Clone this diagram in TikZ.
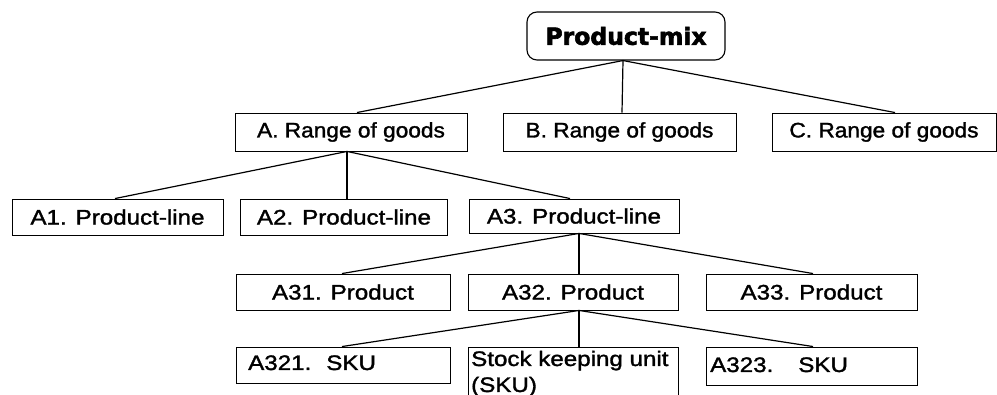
\documentclass[tikz,border=0pt]{standalone}
\usepackage{fontspec}
\setmainfont{Liberation Sans}
\newfontfamily\headfont[FakeBold=2.5]{DejaVu Sans}
\newfontfamily\rangeface[FakeStretch=1.08,FakeBold=1.5]{Liberation Sans}
\newfontfamily\wideface[FakeStretch=1.15,FakeBold=1.5]{Liberation Sans}
\usetikzlibrary{calc}

\begin{document}
\begin{tikzpicture}[x=1pt,y=-1pt,
  box/.style={draw, line width=0.9pt, inner sep=0pt, text=black},
  headbox/.style={box, rounded corners=10pt, line width=1.1pt},
  rangetext/.style={font=\rangeface\fontsize{21}{26}\selectfont},
  widetext/.style={font=\wideface\fontsize{21}{26}\selectfont},
  plain/.style={inner sep=0pt, text=black},
  link/.style={line width=1.2pt}
]
\useasboundingbox (0,0) rectangle (997,395);

% top of the hierarchy
\node[headbox, minimum width=198pt, minimum height=48pt] (pm) at (626,36)
  {\headfont\bfseries\fontsize{23.5}{28}\selectfont Product-mix};

% ranges of goods
\node[box, rangetext, minimum width=232pt, minimum height=38pt] (rA) at (351,132) {A. Range of goods};
\node[box, rangetext, minimum width=233pt, minimum height=38pt] (rB) at (619.5,132) {B. Range of goods};
\node[box, rangetext, minimum width=224pt, minimum height=38pt] (rC) at (884,132) {C. Range of goods};

% product lines
\node[box, widetext, minimum width=211pt, minimum height=36pt] (l1) at (117.5,217) {A1. Product-line};
\node[box, widetext, minimum width=207pt, minimum height=36pt] (l2) at (344,217) {A2. Product-line};
\node[box, widetext, minimum width=210pt, minimum height=34pt] (l3) at (574,216) {A3. Product-line};

% products
\node[box, widetext, minimum width=214pt, minimum height=36pt] (p1) at (343,292) {A31. Product};
\node[box, widetext, minimum width=210pt, minimum height=36pt] (p2) at (573,292) {A32. Product};
\node[box, widetext, minimum width=211pt, minimum height=36pt] (p3) at (811.5,292) {A33. Product};

% stock keeping units
\node[box, minimum width=214pt, minimum height=36pt] (s1) at (343,365) {};
\node[box, minimum width=210pt, minimum height=52pt] (s2) at (573,373) {};
\node[box, minimum width=211pt, minimum height=38pt] (s3) at (811.5,366) {};
\node[plain, widetext, anchor=base west] (t1) at (248,370) {A321.\hspace{15pt}SKU};
\node[plain, widetext, anchor=base west] (t2a) at (471,366) {Stock keeping unit};
\node[plain, widetext, anchor=base west] (t2b) at (471,392) {(SKU)};
\node[plain, widetext, anchor=base west] (t3) at (710,372) {A323.\hspace{25pt}SKU};

% connectors
\draw[link] ($(pm.south)+(-3,0)$) -- ($(rA.north)+(6,0)$);
\draw[link] ($(pm.south)+(-3,0)$) -- ($(rB.north)+(2.5,0)$);
\draw[link] ($(pm.south)+(-3,0)$) -- ($(rC.north)+(11,0)$);

\draw[link] ($(rA.south)+(-4,0)$) -- ($(l1.north)+(-2.5,0)$);
\draw[link] ($(rA.south)+(-4,0)$) -- ($(l2.north)+(3,0)$);
\draw[link] ($(rA.south)+(-4,0)$) -- ($(l3.north)+(-4,0)$);

\draw[link] ($(l3.south)+(5,0)$) -- ($(p1.north)+(-1,0)$);
\draw[link] ($(l3.south)+(5,0)$) -- ($(p2.north)+(6,0)$);
\draw[link] ($(l3.south)+(5,0)$) -- ($(p3.north)+(1.5,0)$);

\draw[link] ($(p2.south)+(6,0)$) -- ($(s1.north)+(-1,0)$);
\draw[link] ($(p2.south)+(6,0)$) -- ($(s2.north)+(6,0)$);
\draw[link] ($(p2.south)+(6,0)$) -- ($(s3.north)+(1.5,0)$);
\end{tikzpicture}
\end{document}
